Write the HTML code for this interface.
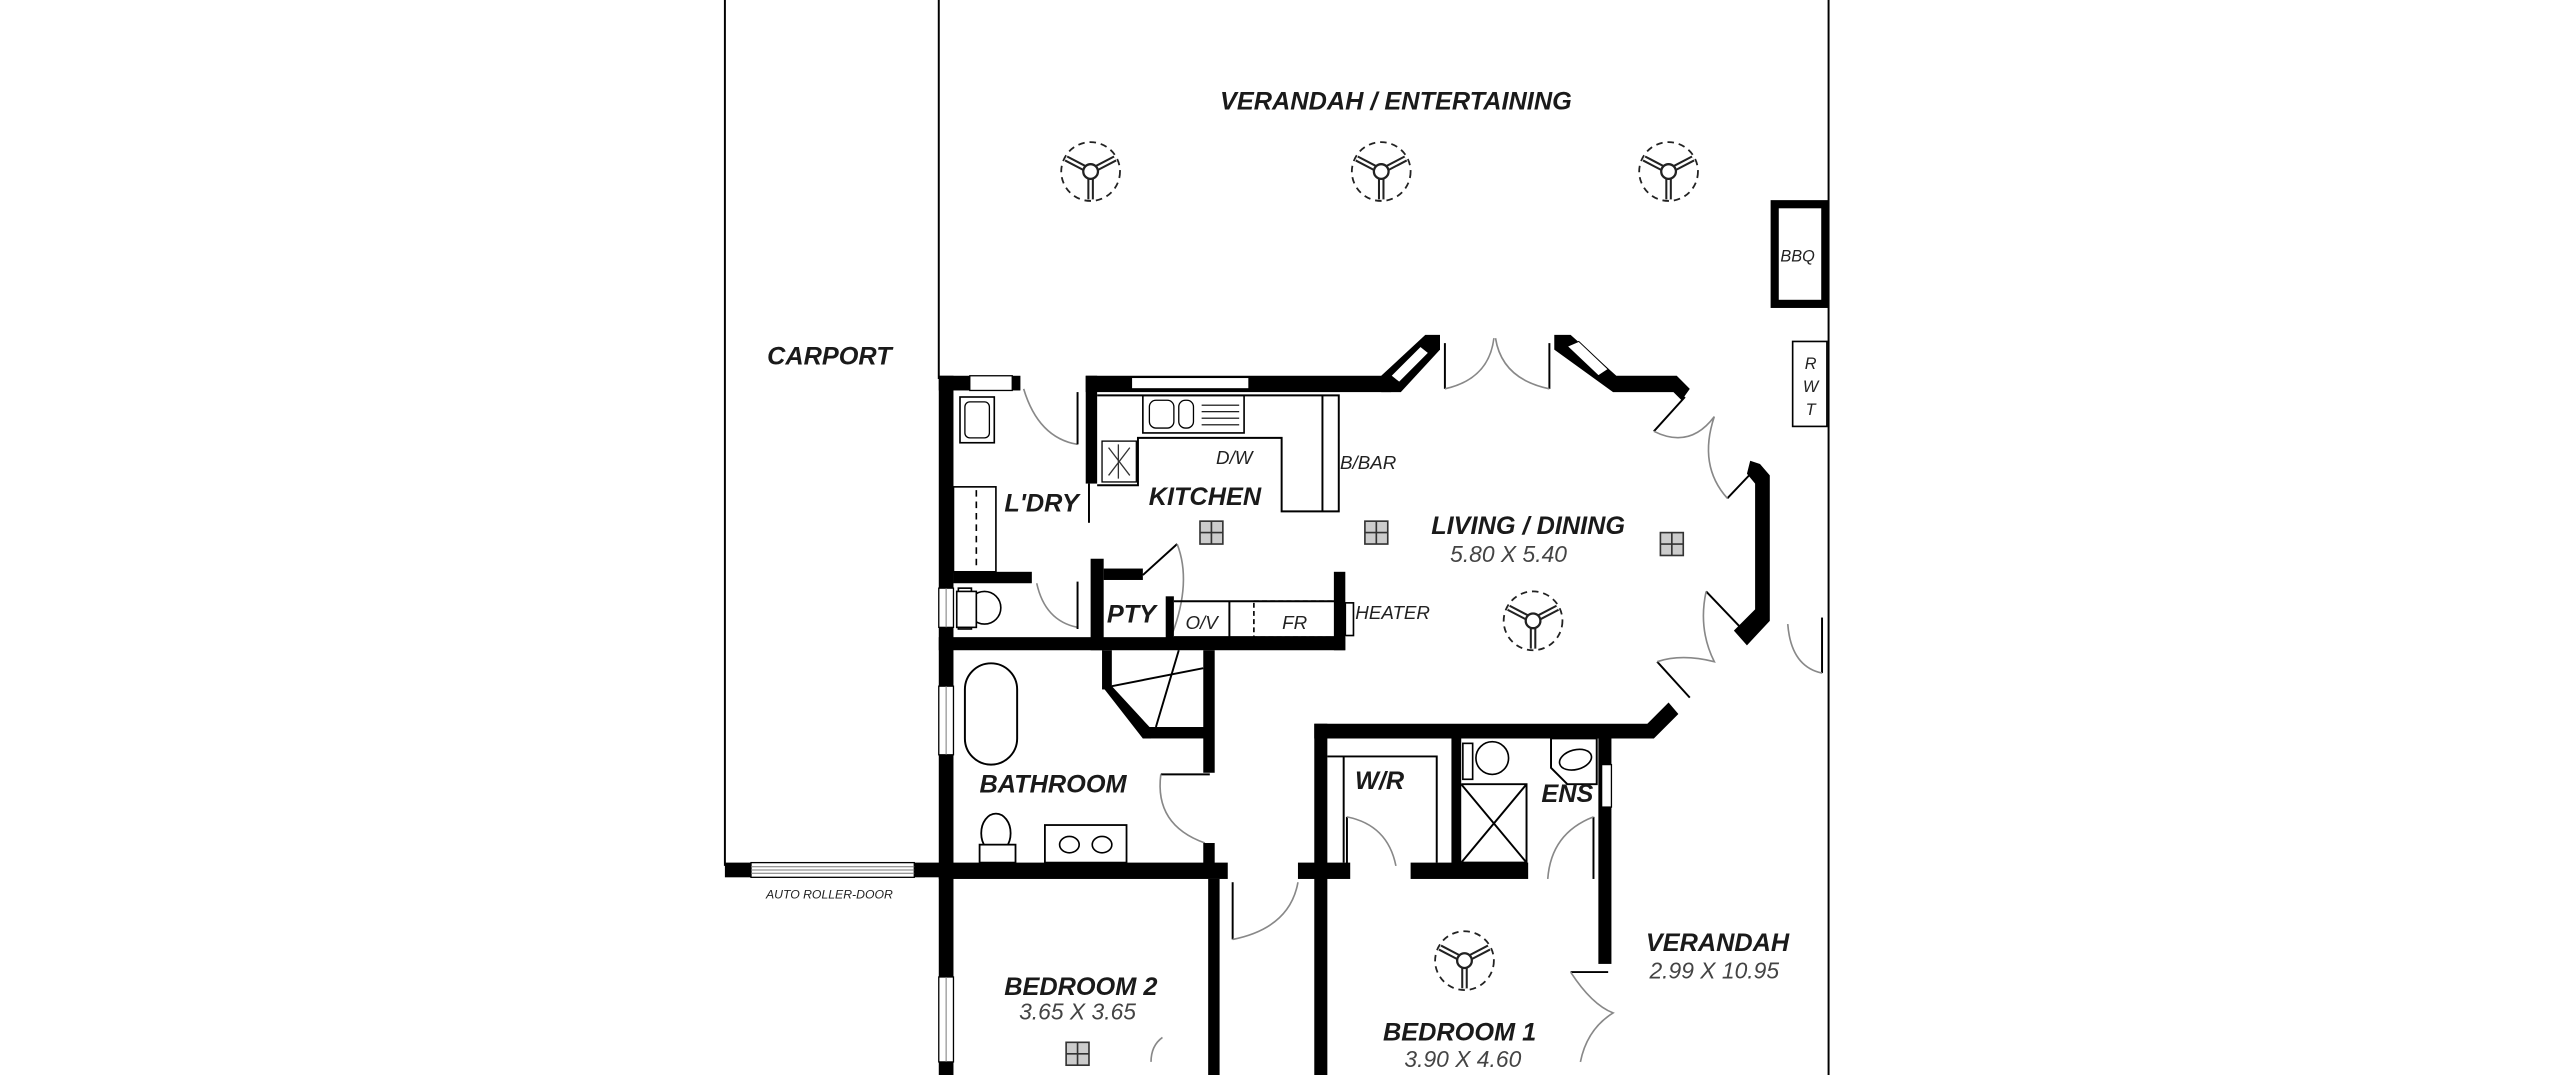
<!DOCTYPE html>
<html><head><meta charset="utf-8"><style>
html,body{margin:0;padding:0;background:#fff;}
svg{display:block;}
text{font-family:"Liberation Sans",sans-serif;}
.l{font-weight:bold;font-style:italic;font-size:15.5px;fill:#1a1a1a;}
.d{font-style:italic;font-size:14px;fill:#444;}
.s{font-style:italic;font-size:11.5px;fill:#222;}
.w{fill:#000;}
.t{stroke:#000;stroke-width:1.2;fill:none;}
.a{stroke:#888;stroke-width:1;fill:none;}
</style></head><body>
<svg width="2560" height="1075" viewBox="0 0 1568 658" preserveAspectRatio="none" xmlns="http://www.w3.org/2000/svg">
<defs>
<g id="fan">
<circle r="18" fill="none" stroke="#222" stroke-width="1.1" stroke-dasharray="4,3"/>
<path d="M0,4 L0,17 M3.5,-2 L15,-8 M-3.5,-2 L-15,-8" stroke="#222" stroke-width="4" fill="none"/>
<path d="M0,4 L0,17 M3.5,-2 L15,-8 M-3.5,-2 L-15,-8" stroke="#fff" stroke-width="1.5" fill="none"/>
<circle r="4.5" fill="#fff" stroke="#222" stroke-width="1.4"/>
</g>
<g id="grid">
<rect x="-7" y="-7" width="14" height="14" fill="#ccc" stroke="#333" stroke-width="1"/>
<path d="M0,-7V7M-7,0H7" stroke="#333" stroke-width="1"/>
</g>
</defs>

<path class="t" d="M444,0V530 M575,0V232 M1120,0V658"/>

<rect class="w" x="444" y="528" width="140" height="9"/>
<rect x="460" y="528" width="100" height="9" fill="#fff" stroke="#000" stroke-width="0.8"/>
<path d="M460,530.5H560M460,532.5H560M460,534.5H560" stroke="#777" stroke-width="0.6"/>
<text class="s" x="508" y="550" text-anchor="middle" style="font-size:7.5px">AUTO ROLLER-DOOR</text>

<rect class="w" x="575" y="230" width="9" height="428"/>
<rect x="575" y="360" width="9" height="24" fill="#fff" stroke="#000" stroke-width="0.8"/>
<rect x="575" y="420" width="9" height="42" fill="#fff" stroke="#000" stroke-width="0.8"/>
<rect x="575" y="598" width="9" height="52" fill="#fff" stroke="#000" stroke-width="0.8"/>
<path d="M579.5,360V384M579.5,420V462M579.5,598V650" stroke="#777" stroke-width="0.6"/>

<rect class="w" x="575" y="230" width="50" height="9"/>
<rect x="594" y="230" width="26" height="9" fill="#fff" stroke="#000" stroke-width="0.8"/>
<path class="a" d="M627,238 Q636,268 660,272"/>
<path class="t" d="M660,240V272"/>
<rect class="w" x="665" y="230" width="7" height="66"/>
<path class="t" d="M667,296V320"/>
<rect x="588" y="243" width="21" height="28" fill="#fff" stroke="#000" stroke-width="1"/>
<rect x="591" y="246" width="15" height="22" rx="3" fill="none" stroke="#000" stroke-width="0.8"/>
<rect x="584" y="298" width="26" height="52" fill="#fff" stroke="#000" stroke-width="1"/>
<path d="M598,300V348" stroke="#000" stroke-width="1" stroke-dasharray="4,3"/>
<rect class="w" x="584" y="350" width="48" height="7"/>
<path class="a" d="M635,357 Q640,380 660,384"/>
<path class="t" d="M660,356V385"/>
<rect x="587" y="360" width="8" height="25" fill="#fff" stroke="#000" stroke-width="1"/>
<circle cx="603" cy="372" r="10" fill="#fff" stroke="#000" stroke-width="1"/>
<rect x="586" y="362" width="12" height="22" fill="#fff" stroke="#000" stroke-width="1"/>

<rect class="w" x="665" y="230" width="187" height="10"/>
<rect x="693" y="231" width="72" height="7" fill="#fff" stroke="#000" stroke-width="0.8"/>
<polygon class="w" points="846,230 873,205 882,205 882,214 858,240 846,240"/>
<polygon points="852,230 870,212 875,216 857,234" fill="#fff" stroke="#000" stroke-width="0.6"/>
<path class="t" d="M885,210V238 M949,210V238"/>
<path class="a" d="M885,238 Q912,232 915,207 M949,238 Q920,232 916,207"/>
<polygon class="w" points="952,205 962,205 990,230 1027,230 1035,238 1030,245 1025,240 988,240 952,214"/>
<polygon points="960,212 967,209 985,226 979,230" fill="#fff" stroke="#000" stroke-width="0.6"/>
<path class="t" d="M1032,243 L1013,264 M1077,285 L1058,305"/>
<path class="a" d="M1013,264 Q1035,275 1050,255 Q1040,285 1058,305"/>
<polygon class="w" points="1072,282 1078,284 1084,291 1084,380 1070,395 1062,386 1075,373 1075,296 1070,290"/>
<path class="t" d="M1045,362 L1066,384 M1015,405 L1035,427"/>
<path class="a" d="M1045,362 Q1040,385 1050,405 Q1030,400 1015,405"/>
<path class="t" d="M1116,378V412"/>
<path class="a" d="M1116,412 Q1097,408 1095,382"/>
<polygon class="w" points="1022,430 1028,437 1013,452 805,452 805,443 1009,443"/>

<rect x="1087" y="125" width="31" height="61" fill="#fff" stroke="#000" stroke-width="5"/>
<text class="s" x="1101" y="160" text-anchor="middle" style="font-size:10px">BBQ</text>
<rect x="1098" y="209" width="21" height="52" fill="#fff" stroke="#000" stroke-width="1"/>
<text class="s" x="1109" y="226" text-anchor="middle" style="font-size:10px">R</text>
<text class="s" x="1109" y="240" text-anchor="middle" style="font-size:10px">W</text>
<text class="s" x="1109" y="254" text-anchor="middle" style="font-size:10px">T</text>

<rect x="700" y="242" width="62" height="23" fill="#fff" stroke="#000" stroke-width="1"/>
<rect x="704" y="245" width="15" height="17" rx="4" fill="none" stroke="#000" stroke-width="0.8"/>
<rect x="722" y="245" width="9" height="17" rx="4" fill="none" stroke="#000" stroke-width="0.8"/>
<path d="M736,248H759M736,252H759M736,256H759M736,260H759" stroke="#000" stroke-width="0.7"/>
<path class="t" d="M672,242H820V313H785V268H697V297H672"/>
<path class="t" d="M810,242V313"/>
<rect x="675" y="270" width="21" height="25" fill="#fff" stroke="#000" stroke-width="0.8"/>
<path d="M679,274L692,291M692,274L679,291M685,272V293" stroke="#333" stroke-width="0.8"/>
<rect class="w" x="668" y="342" width="8" height="56"/>
<rect class="w" x="676" y="348" width="24" height="7"/>
<path class="t" d="M700,352 L721,333"/>
<path class="a" d="M721,333 Q730,356 718,388"/>
<rect class="w" x="714" y="365" width="5" height="30"/>
<path class="t" d="M719,368H820M719,390H820M753,368V390"/>
<rect x="768" y="368" width="50" height="22" fill="none" stroke="#000" stroke-width="1" stroke-dasharray="3,2"/>
<rect class="w" x="817" y="350" width="7" height="48"/>
<rect x="824" y="369" width="5" height="20" fill="#fff" stroke="#000" stroke-width="1"/>
<rect class="w" x="575" y="390" width="249" height="8"/>

<rect class="w" x="675" y="398" width="6" height="24"/>
<polygon class="w" points="675,420 681,420 705,446 705,452 700,452"/>
<rect class="w" x="700" y="445" width="42" height="7"/>
<rect class="w" x="737" y="398" width="7" height="75"/>
<path class="t" d="M681,420L737,409 M722,398L708,445"/>

<rect x="591" y="406" width="32" height="62" rx="16" fill="#fff" stroke="#000" stroke-width="1.2"/>
<path class="t" d="M711,474H741"/>
<path class="a" d="M711,474 Q707,505 738,516"/>
<rect class="w" x="737" y="516" width="7" height="14"/>
<ellipse cx="610" cy="510" rx="9" ry="12" fill="#fff" stroke="#000" stroke-width="1.1"/>
<rect x="600" y="517" width="22" height="11" fill="#fff" stroke="#000" stroke-width="1.1"/>
<rect x="640" y="505" width="50" height="23" fill="#fff" stroke="#000" stroke-width="1.1"/>
<ellipse cx="655" cy="517" rx="6" ry="5" fill="none" stroke="#000" stroke-width="1"/>
<ellipse cx="675" cy="517" rx="6" ry="5" fill="none" stroke="#000" stroke-width="1"/>
<rect class="w" x="575" y="528" width="177" height="10"/>
<rect class="w" x="795" y="528" width="32" height="10"/>
<rect class="w" x="864" y="528" width="72" height="10"/>
<rect class="w" x="740" y="538" width="7" height="120"/>
<path class="t" d="M755,540V575"/>
<path class="a" d="M755,575 Q790,568 795,540"/>
<path class="a" d="M705,650 Q705,640 712,635"/>

<rect class="w" x="805" y="443" width="8" height="215"/>
<path class="t" d="M813,463H880V528 M823,463V528"/>
<path class="t" d="M825,500V530"/>
<path class="a" d="M825,500 Q850,505 855,530"/>
<rect class="w" x="889" y="452" width="6" height="78"/>
<rect x="896" y="455" width="6" height="22" fill="#fff" stroke="#000" stroke-width="1"/>
<ellipse cx="914" cy="464" rx="10" ry="10" fill="#fff" stroke="#000" stroke-width="1"/>
<path class="t" d="M895,480H935V528H895 M895,480L935,528 M935,480L895,528"/>
<path class="t" d="M950,452H978V480H960L950,470Z"/>
<ellipse cx="965" cy="465" rx="10" ry="6" fill="none" stroke="#000" stroke-width="1" transform="rotate(-15 965 465)"/>
<rect class="w" x="979" y="448" width="8" height="142"/>
<rect x="981" y="468" width="6" height="26" fill="#fff" stroke="#000" stroke-width="0.8"/>
<path class="t" d="M976,500V538"/>
<path class="a" d="M976,500 Q950,510 948,538"/>
<path class="t" d="M962,595H985"/>
<path class="a" d="M962,595 Q975,615 988,620 Q972,630 968,650"/>

<use href="#fan" x="668" y="105"/>
<use href="#fan" x="846" y="105"/>
<use href="#fan" x="1022" y="105"/>
<use href="#fan" x="939" y="380"/>
<use href="#fan" x="897" y="588"/>
<use href="#grid" x="742" y="326"/>
<use href="#grid" x="843" y="326"/>
<use href="#grid" x="1024" y="333"/>
<use href="#grid" x="660" y="645"/>

<text class="l" x="855" y="67" text-anchor="middle">VERANDAH / ENTERTAINING</text>
<text class="l" x="508" y="223" text-anchor="middle">CARPORT</text>
<text class="l" x="638" y="313" text-anchor="middle">L'DRY</text>
<text class="l" x="738" y="309" text-anchor="middle">KITCHEN</text>
<text class="s" x="756" y="284" text-anchor="middle">D/W</text>
<text class="s" x="838" y="287" text-anchor="middle">B/BAR</text>
<text class="l" x="936" y="327" text-anchor="middle">LIVING / DINING</text>
<text class="d" x="924" y="344" text-anchor="middle">5.80 X 5.40</text>
<text class="l" x="693" y="381" text-anchor="middle">PTY</text>
<text class="s" x="736" y="385" text-anchor="middle">O/V</text>
<text class="s" x="793" y="385" text-anchor="middle">FR</text>
<text class="s" x="853" y="379" text-anchor="middle">HEATER</text>
<text class="l" x="645" y="485" text-anchor="middle">BATHROOM</text>
<text class="l" x="845" y="483" text-anchor="middle">W/R</text>
<text class="l" x="960" y="491" text-anchor="middle">ENS</text>
<text class="l" x="1052" y="582" text-anchor="middle">VERANDAH</text>
<text class="d" x="1050" y="599" text-anchor="middle">2.99 X 10.95</text>
<text class="l" x="662" y="609" text-anchor="middle">BEDROOM 2</text>
<text class="d" x="660" y="624" text-anchor="middle">3.65 X 3.65</text>
<text class="l" x="894" y="637" text-anchor="middle">BEDROOM 1</text>
<text class="d" x="896" y="653" text-anchor="middle">3.90 X 4.60</text>
</svg>
</body></html>
